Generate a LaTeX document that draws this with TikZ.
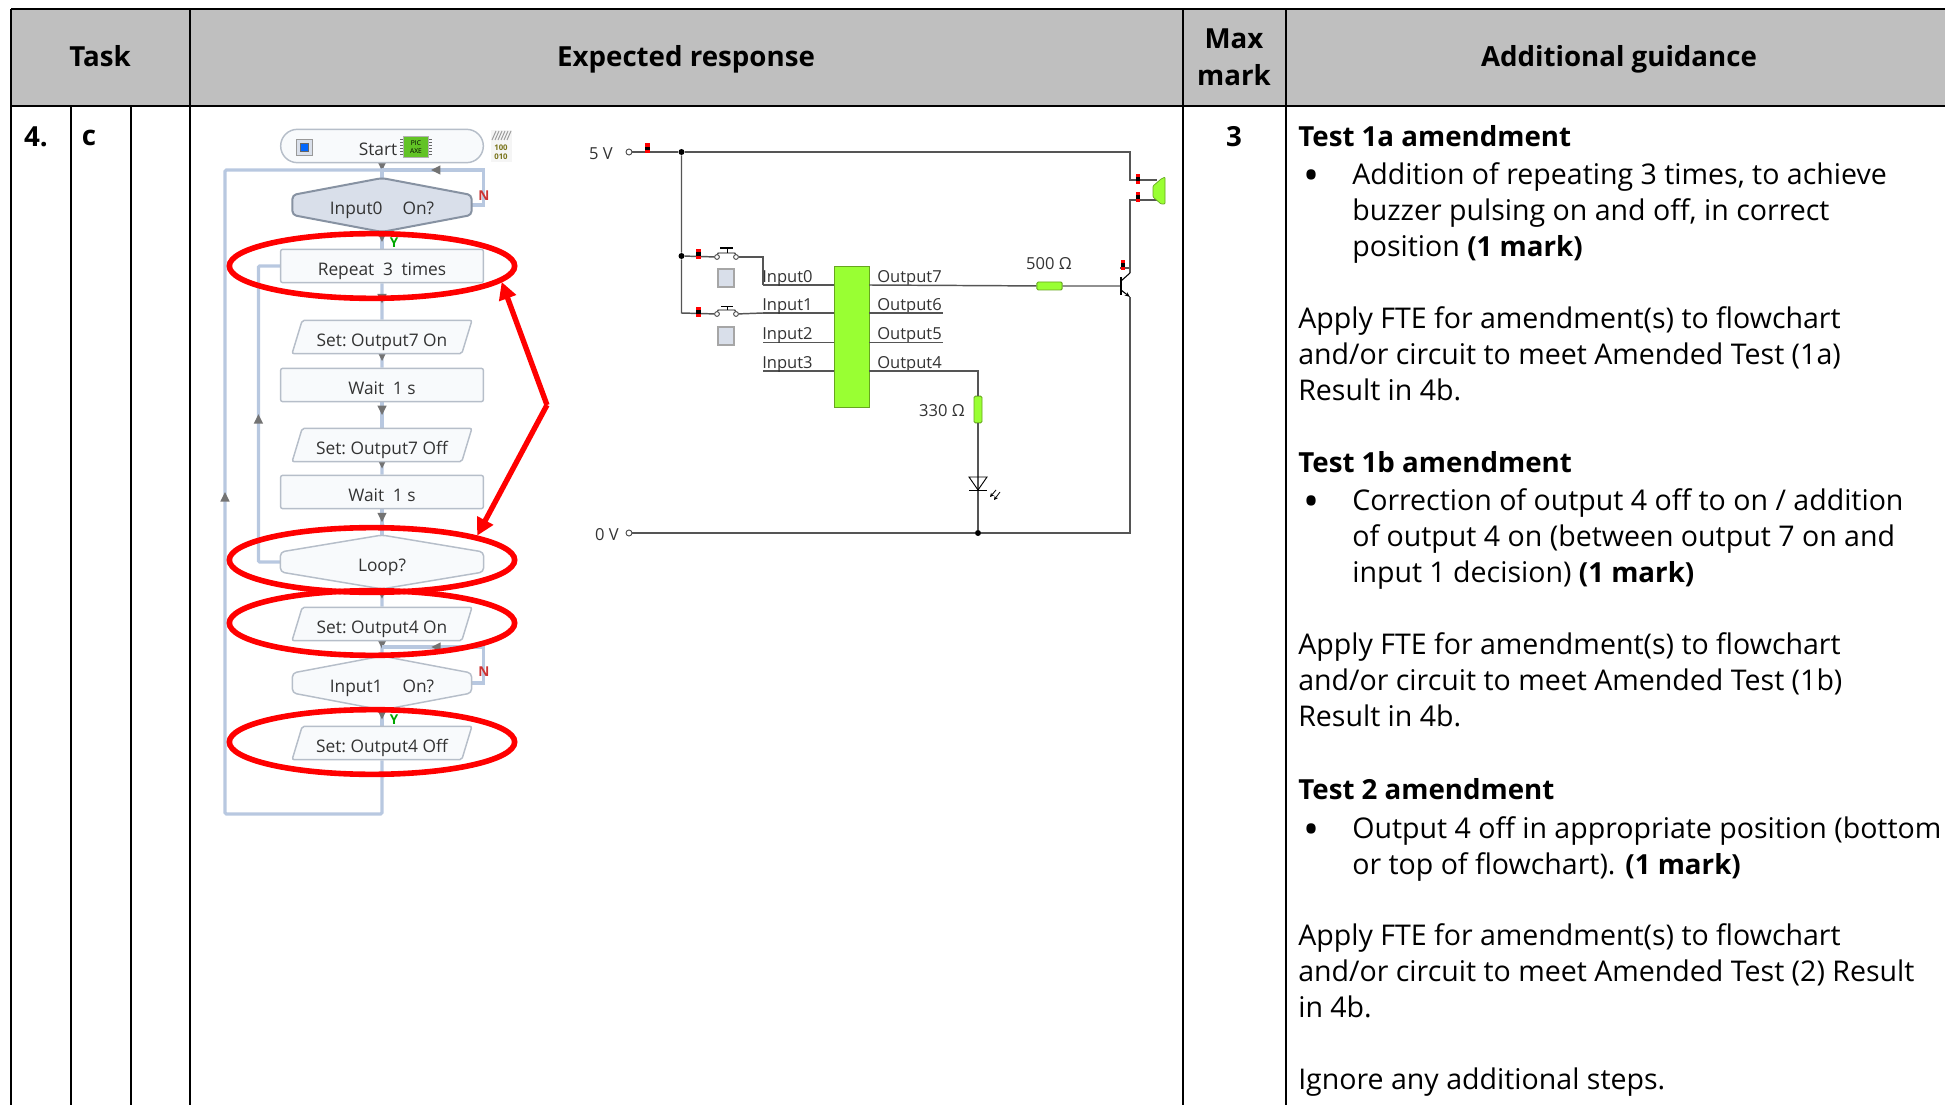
\documentclass[tikz,border=0pt]{standalone}
\usepackage{fontspec}
\setmainfont{Open Sans}[BoldFeatures={Scale=0.97}]
\usetikzlibrary{calc,arrows.meta,shapes.geometric,decorations.markings,backgrounds}

\definecolor{headgray}{HTML}{BFBFBF}
\definecolor{flowblue}{HTML}{B8C8E0}
\definecolor{flowedge}{HTML}{B6BEC9}
\definecolor{flowfill}{HTML}{F8FAFC}
\definecolor{activefill}{HTML}{D9DFEA}
\definecolor{activeedge}{HTML}{8792A2}
\definecolor{chipgreen}{HTML}{99FF33}
\definecolor{chipedge}{HTML}{66A61E}
\definecolor{wiregray}{HTML}{555555}

\tikzset{
  rule/.style={line width=2.2pt,black},
  txt/.style={anchor=north west,inner sep=0pt,align=left,font=\fontsize{21.4}{27}\selectfont},
  headtxt/.style={inner sep=0pt,align=center,font=\fontsize{21.4}{27}\selectfont\bfseries},
  flowbox/.style={rectangle,draw=flowedge,fill=flowfill,line width=1.1pt,rounded corners=1.5pt,
    minimum width=152pt,minimum height=25pt,inner sep=0pt,text=black!80,text height=14pt,text depth=0pt,
    font=\fontsize{13}{15}\selectfont},
  flowpara/.style={flowbox,trapezium,trapezium left angle=66,trapezium right angle=114,
    trapezium stretches=true,minimum width=135pt},
  flowhex/.style={rectangle,inner sep=0pt,text=black!80,minimum height=40pt,text height=14.6pt,text depth=0pt,
    font=\fontsize{13}{15}\selectfont},
  flowline/.style={draw=flowblue,line width=2.4pt,postaction={decorate},
    decoration={markings,mark=at position #1 with {\arrow[gray!90!black,line width=0pt]{Triangle[length=7pt,width=7pt]}}}},
  redring/.style={ellipse,draw=red,line width=4.2pt,minimum width=214pt,minimum height=48.5pt,inner sep=0pt},
  redline/.style={draw=red,line width=4pt,line join=miter},
  redtip/.style={-{Triangle[length=13pt,width=13pt]}},
  wire/.style={draw=wiregray,line width=1.1pt},
  cct/.style={inner sep=0pt,text=black!80,font=\fontsize{12.4}{15}\selectfont},
  flag/.style={inner sep=0pt,font=\fontsize{10.5}{10.5}\selectfont\bfseries},
  term/.style={circle,draw=black!70,fill=white,line width=0.7pt,minimum size=4.5pt,inner sep=0pt},
  junc/.style={circle,fill=black,minimum size=4.5pt,inner sep=0pt},
  probe/.style={rectangle,fill=red,minimum width=3.6pt,minimum height=7.5pt,inner sep=0pt},
  probedot/.style={rectangle,fill=black,minimum width=3.6pt,minimum height=2.5pt,inner sep=0pt},
  res/.style={rectangle,draw=chipedge,fill=chipgreen,rounded corners=1pt,line width=0.7pt,inner sep=0pt},
  pushbtn/.style={rectangle,draw=black!35,fill=activefill,line width=0.9pt,minimum width=12pt,minimum height=13.5pt,inner sep=0pt}
}

\begin{document}
\begin{tikzpicture}[x=0.75pt,y=-0.75pt]
  \useasboundingbox (0,0) rectangle (1945,1105);

  % table
  \fill[headgray] (11,9) rectangle (1945,106);
  \coordinate (tl) at (11,9);
  \coordinate (tr) at (1945,9);
  \coordinate (ml) at (11,106);
  \coordinate (mr) at (1945,106);
  \draw[rule] (tl) -- (tr);
  \draw[rule] (ml) -- (mr);
  \foreach \x in {11,190,1183,1286} \draw[rule] (\x,9) -- (\x,1105);
  \foreach \x in {71,131} \draw[rule] (\x,106) -- (\x,1105);

  \node[headtxt] (task) at (100,56) {Task};
  \node[headtxt] (expected) at (686,59) {Expected response};
  \node[headtxt] (maxmark) at (1234,57) {Max\\[1pt]mark};
  \node[headtxt] (guidance) at (1619,59) {Additional guidance};
  \node[headtxt] (qnum) at (36,137) {4.};
  \node[headtxt] (qpart) at (89,138) {c};
  \node[headtxt] (marks) at (1234,137) {3};

  % flowchart
  \node[flowbox,rounded corners=12.5pt] (start) at (382,146) {Start\hspace{6pt}\mbox{}};
  \node[flowhex,minimum width=134pt] (inp0) at (382,205) {Input0\hspace{15pt}On?};
  \node[flowbox] (rep) at (382,266) {Repeat\enspace 3\enspace times};
  \node[flowpara] (set7on) at (382,337) {Set:\ Output7 On};
  \node[flowbox] (wait1) at (382,385) {Wait\enspace 1 s};
  \node[flowpara] (set7off) at (382,445) {Set:\ Output7 Off};
  \node[flowbox] (wait2) at (382,492) {Wait\enspace 1 s};
  \node[flowhex,minimum width=152pt] (loopq) at (382,562) {Loop?};
  \node[flowpara] (set4on) at (382,624) {Set:\ Output4 On};
  \node[flowhex,minimum width=134pt] (inp1) at (382,683) {Input1\hspace{15pt}On?};
  \node[flowpara] (set4off) at (382,743) {Set:\ Output4 Off};

  \coordinate (topjoin) at (382,170);
  \coordinate (lowjoin) at (382,647);

  \begin{scope}[on background layer]
    \draw[flowline=0.5] (start) -- (inp0);
    \draw[flowline=0.6] (inp0) -- (rep);
    \draw[flowline=0.55] (rep) -- (set7on);
    \draw[flowline=0.5] (set7on) -- (wait1);
    \draw[flowline=0.5] (wait1) -- (set7off);
    \draw[flowline=0.5] (set7off) -- (wait2);
    \draw[flowline=0.5] (wait2) -- (loopq);
    \draw[flowline=0.55] (loopq) -- (set4on);
    \draw[flowline=0.5] (set4on) -- (inp1);
    \draw[flowline=0.6] (inp1) -- (set4off);
    \draw[flowline=0.67] (inp0.east) -- ++(12,0) |- (topjoin);
    \draw[flowline=0.67] (inp1.east) -- ++(12,0) |- (lowjoin);
    \draw[flowline=0.5,rounded corners=1pt] (loopq.west) -- ++(-22,0) |- (rep.west);
    \draw[flowline=0.526,rounded corners=1pt] (set4off.south) |- (225,814) |- (topjoin);
    \draw[flowedge,fill=flowfill,line width=1.1pt,rounded corners=3pt]
      (loopq.north) -- ([yshift=7.5pt]loopq.east) -- ([yshift=-7.5pt]loopq.east)
      -- (loopq.south) -- ([yshift=-7.5pt]loopq.west) -- ([yshift=7.5pt]loopq.west) -- cycle;
    \draw[flowedge,fill=flowfill,line width=1.1pt,rounded corners=3pt]
      (inp1.north) -- ([yshift=7.5pt]inp1.east) -- ([yshift=-7.5pt]inp1.east)
      -- (inp1.south) -- ([yshift=-7.5pt]inp1.west) -- ([yshift=7.5pt]inp1.west) -- cycle;
    \draw[activeedge,fill=activefill,line width=1.5pt,rounded corners=3pt]
      (inp0.north) -- ([yshift=7.5pt]inp0.east) -- ([yshift=-7.5pt]inp0.east)
      -- (inp0.south) -- ([yshift=-7.5pt]inp0.west) -- ([yshift=7.5pt]inp0.west) -- cycle;
  \end{scope}

  \node[flag,text=red!60!gray] (no0) at (484,196) {N};
  \node[flag,text=red!60!gray] (no1) at (484,672) {N};
  \node[flag,text=green!65!black] (yes0) at (394,243) {Y};
  \node[flag,text=green!65!black] (yes1) at (394,720) {Y};

  % start icons
  \node[rectangle,draw=black!40,fill=activefill,minimum size=12pt,inner sep=0pt] (stopbtn) at (304,147) {};
  \node[rectangle,draw=black!60,fill=blue!60!cyan,minimum size=6pt,inner sep=0pt] (stopdot) at (304,147) {};
  \foreach \y in {139,142,145,148,151,154} \draw[black!60,line width=0.6pt] (400,\y) -- (432,\y);
  \node[rectangle,fill=green!45!olive!85,draw=black!30,minimum width=19pt,minimum height=15.5pt,inner sep=0pt,
    align=center,font=\fontsize{5}{5.5}\selectfont] (picaxe) at (416,147) {PIC\\AXE};
  \fill[black!4] (491,130) rectangle (512,162);
  \foreach \x in {492,495,...,507} \draw[black!40,line width=0.7pt] (\x,140) -- (\x+4,131);
  \node[inner sep=0pt,align=center,text=olive!80!black,font=\fontsize{6}{7}\selectfont\bfseries] (bincode) at (501,152) {100\\010};

  % red rings
  \node[redring] (ring1) at (372,266) {};
  \node[redring] (ring2) at (372,560) {};
  \node[redring] (ring3) at (372,623) {};
  \node[redring] (ring4) at (372,742) {};
  \coordinate (redbend) at (547,405);
  \draw[redline,redtip] (redbend) -- (ring1.-7);
  \draw[redline,redtip] (redbend) -- (ring2.13);

  % circuit
  \node[cct] (lab5v) at (601,154) {5 V};
  \node[cct] (lab0v) at (607,535) {0 V};
  \node[term] (t5v) at (629,152) {};
  \node[term] (t0v) at (629,533) {};
  \node[junc] (j5v) at (681.5,152) {};
  \node[junc] (jsw) at (681.5,256) {};
  \node[junc] (j0v) at (978,533) {};
  \node[rectangle,draw=chipedge,fill=chipgreen,minimum width=26pt,minimum height=106pt,inner sep=0pt] (chip) at (851.5,337) {};

  \foreach \n/\y in {0/285,1/313,2/342.5,3/371} {
    \coordinate (in\n) at (763,\y);
    \draw[wire] (in\n) -- (in\n -| chip.west);
    \node[cct,anchor=base west] (lin\n) at (762,\y-2.5) {Input\n};
  }
  \foreach \n/\y in {7/285,6/313,5/342.5,4/371} {
    \coordinate (out\n) at (869,\y);
    \node[cct,anchor=base west] (lout\n) at (877,\y-2.5) {Output\n};
  }
  \coordinate (end6) at (943,313);
  \coordinate (end5) at (943,342.5);
  \draw[wire] (out6) -- (end6);
  \draw[wire] (out5) -- (end5);

  \node[term,minimum size=3.6pt] (sw0a) at (717,257) {};
  \node[term,minimum size=3.6pt] (sw0b) at (736,257) {};
  \node[term,minimum size=3.6pt] (sw1a) at (717,314) {};
  \node[term,minimum size=3.6pt] (sw1b) at (736,314) {};
  \node[pushbtn] (btn0) at (726,278) {};
  \node[pushbtn] (btn1) at (726,336) {};
  \draw[black,line width=0.7pt] (sw0a) -- (718,253) -- (735,253) -- (sw0b);
  \draw[black,line width=0.7pt] (727,253) -- (727,248);
  \draw[black,line width=1.4pt] (720,248) -- (733,248);
  \draw[black,line width=0.7pt] (sw1a) -- (718,310) -- (735,310) -- (sw1b);
  \draw[black,line width=0.7pt] (727,310) -- (727,306);
  \draw[black,line width=0.7pt] (721,306) -- (733,306);

  \node[res,minimum width=19pt,minimum height=6pt] (r500) at (1049.5,286) {};
  \node[res,minimum width=6pt,minimum height=20pt] (r330) at (978,409.5) {};
  \node[cct] (lab500) at (1049,264) {500 Ω};
  \node[cct] (lab330) at (942,411) {330 Ω};

  \coordinate (cnr5v) at (1130,152);
  \coordinate (bz1) at (1130,180);
  \coordinate (bz2) at (1130,200);
  \coordinate (tcol) at (1130,273);
  \coordinate (temi) at (1130,297);
  \coordinate (tbase) at (1121,286);
  \coordinate (cnr0v) at (1130,533);
  \coordinate (cnr4) at (978,371);
  \coordinate (swtop) at (763,257);

  \draw[wire] (t5v) -- (j5v) -- (cnr5v) -- (bz1) -- (1157,180);
  \draw[wire] (j5v) -- (jsw) -- (681.5,313) -- (sw1a);
  \draw[wire] (jsw) -- (sw0a);
  \draw[wire] (sw0b) -- (swtop) -- (in0);
  \draw[wire] (sw1b) -- (in1);
  \draw[wire] (out7) -- (r500) -- (tbase);
  \draw[wire] (out4) -- (cnr4) -- (r330) -- (j0v);
  \draw[wire] (t0v) -- (j0v) -- (cnr0v) -- (temi);
  \draw[wire] (tcol) -- (bz2) -- (1157,200);
  \draw[wire,line width=0.8pt] (1120,268) -- (1130,268);

  % transistor
  \draw[black,line width=1.3pt] (1121,277) -- (1121,295);
  \draw[black,line width=0.8pt] (1121,281) -- (tcol);
  \draw[black,line width=0.8pt,-{Stealth[length=4pt,width=3pt]}] (1121,290) -- (temi);

  % buzzer
  \fill[chipgreen,draw=chipedge,line width=0.5pt,rounded corners=0.7pt]
    (1165,177) -- (1165,204) -- (1161,204) -- (1153,197) -- (1153,186) -- (1161,179) -- cycle;

  % led
  \draw[black,line width=0.7pt] (969,477) -- (987,477) -- (978,490) -- cycle;
  \draw[black,line width=0.7pt] (969,490) -- (987,490);
  \draw[black,line width=0.6pt,-{Stealth[length=3pt,width=3pt]}] (996,490) -- (990,497);
  \draw[black,line width=0.6pt,-{Stealth[length=3pt,width=3pt]}] (1000,492) -- (994,500);

  % probes
  \foreach \x/\y [count=\i] in {647.5/148.5,698.5/254,698.5/312,1138/179,1138/197,1123/265} {
    \node[probe] (mark\i) at (\x,\y) {};
    \node[probedot] (dot\i) at (mark\i) {};
  }

  % guidance text
  \node[txt] (head1a) at (1298,121) {\strut\textbf{Test 1a amendment}};
  \node[txt,font=\fontsize{32}{27}\selectfont] (dot1a) at (1303,165) {\strut•};
  \node[txt] (para1a) at (1352,159) {\strut Addition of repeating 3 times, to achieve\\buzzer pulsing on and off, in correct\\position \textbf{(1 mark)}};
  \node[txt] (fte1a) at (1298,303) {\strut Apply FTE for amendment(s) to flowchart\\and/or circuit to meet Amended Test (1a)\\Result in 4b.};
  \node[txt] (head1b) at (1298,447) {\strut\textbf{Test 1b amendment}};
  \node[txt,font=\fontsize{32}{27}\selectfont] (dot1b) at (1303,491) {\strut•};
  \node[txt] (para1b) at (1352,485) {\strut Correction of output 4 off to on / addition\\of output 4 on (between output 7 on and\\input 1 decision) \textbf{(1 mark)}};
  \node[txt] (fte1b) at (1298,629) {\strut Apply FTE for amendment(s) to flowchart\\and/or circuit to meet Amended Test (1b)\\Result in 4b.};
  \node[txt] (head2) at (1298,774) {\strut\textbf{Test 2 amendment}};
  \node[txt,font=\fontsize{32}{27}\selectfont] (dot2) at (1303,819) {\strut•};
  \node[txt] (para2) at (1352,813) {\strut Output 4 off in appropriate position (bottom\\or top of flowchart). \textbf{(1 mark)}};
  \node[txt] (fte2) at (1298,920) {\strut Apply FTE for amendment(s) to flowchart\\and/or circuit to meet Amended Test (2) Result\\in 4b.};
  \node[txt] (ignore) at (1298,1064) {\strut Ignore any additional steps.};
\end{tikzpicture}
\end{document}
